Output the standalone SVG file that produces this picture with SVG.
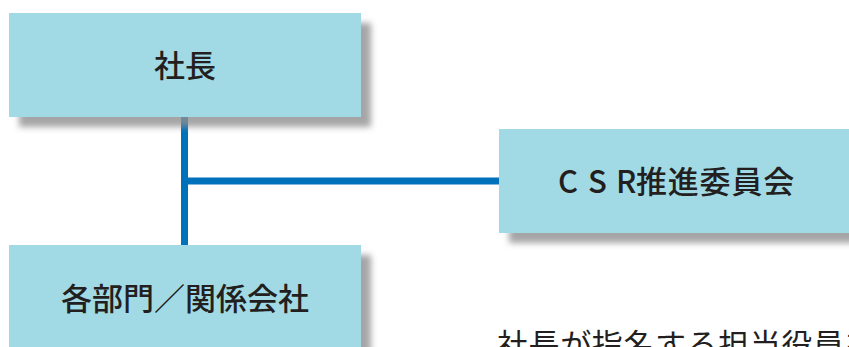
<svg xmlns="http://www.w3.org/2000/svg" width="849" height="347" viewBox="0 0 849 347">
<defs>
<filter id="sh" x="-10%" y="-20%" width="130%" height="160%">
<feGaussianBlur stdDeviation="3"/>
</filter>
</defs>
<style>
.box{fill:#a1dae5}
.shadow{fill:#8f8f8f;filter:url(#sh);opacity:0.8}
.lbl{font-family:"Noto Sans CJK JP","Noto Sans",sans-serif;font-size:31px;font-weight:500;fill:#231f20;text-anchor:middle}
.body{font-family:"Noto Sans CJK JP","Noto Sans",sans-serif;font-size:31px;font-weight:400;fill:#231f20;letter-spacing:0.6px}
.conn{stroke:#0071bb;stroke-width:7;fill:none}
</style>
<rect width="849" height="347" fill="#ffffff"/>
<g id="connectors">
<line class="conn" x1="184.5" y1="117" x2="184.5" y2="245"/>
<line class="conn" x1="184.5" y1="181" x2="499" y2="181"/>
</g>
<g id="node-president">
<rect class="shadow" x="19" y="23" width="352" height="104"/>
<rect class="box" x="9" y="13" width="352" height="104"/>
<text class="lbl" x="185" y="77">社長</text>
</g>
<g id="node-csr">
<rect class="shadow" x="509" y="139" width="352" height="104"/>
<rect class="box" x="499" y="129" width="360" height="104"/>
<text class="lbl" x="558 588 616 636" y="193" style="text-anchor:start;letter-spacing:0.8px">CSR推進委員会</text>
</g>
<g id="node-depts">
<rect class="shadow" x="19" y="255" width="352" height="104"/>
<rect class="box" x="9" y="245" width="352" height="110"/>
<text class="lbl" x="185" y="310">各部門／関係会社</text>
</g>
<text class="body" x="497" y="356">社長が指名する担当役員を</text>
</svg>
